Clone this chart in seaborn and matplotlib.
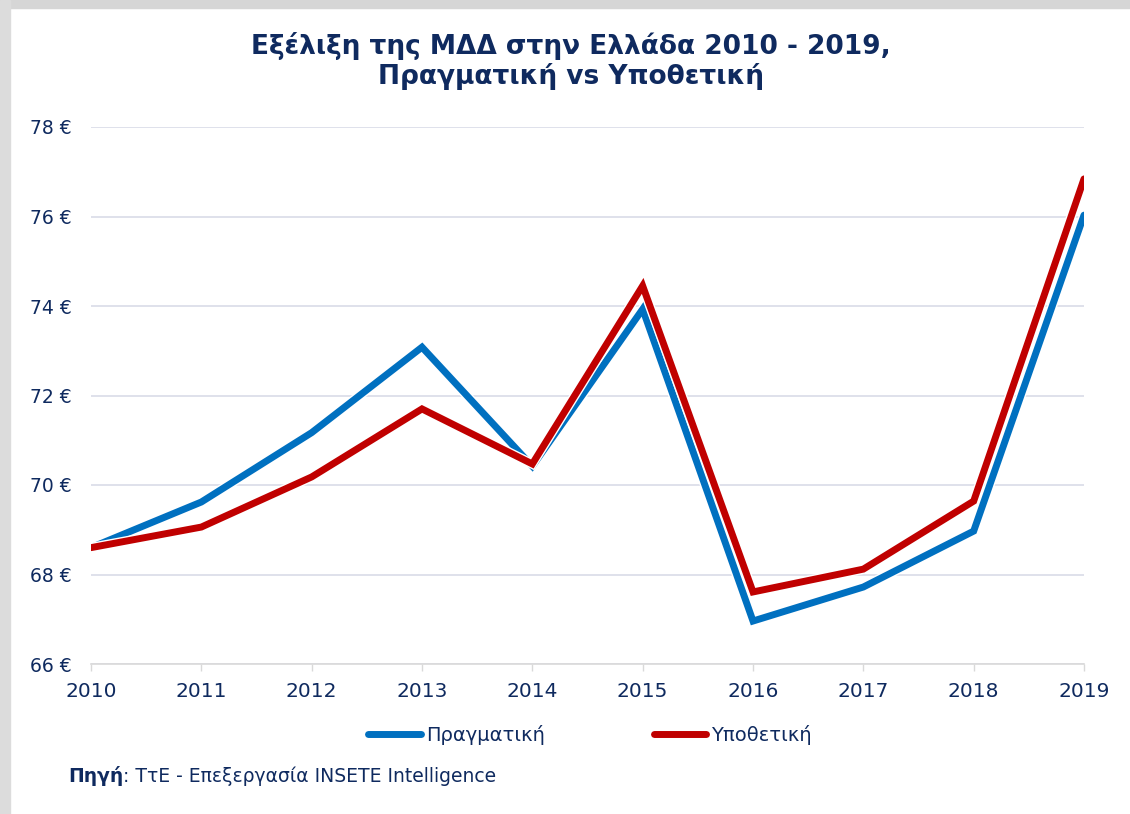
import numpy as np
import pandas as pd
import matplotlib
matplotlib.use("Agg")
import matplotlib.pyplot as plt
import matplotlib.patheffects as pe
from matplotlib.patches import Rectangle
from matplotlib.lines import Line2D
import seaborn as sns

years = [2010, 2011, 2012, 2013, 2014, 2015, 2016, 2017, 2018, 2019]
actual = [68.60, 69.62, 71.17, 73.08, 70.42, 73.93, 66.96, 67.72, 68.97, 76.03]
hypothetical = [68.60, 69.06, 70.18, 71.70, 70.47, 74.45, 67.61, 68.12, 69.64, 76.84]
series_names = ["Πραγματική", "Υποθετική"]
y_ticks = [66, 68, 70, 72, 74, 76, 78]

title = "Εξέλιξη της ΜΔΔ στην Ελλάδα 2010 - 2019,\nΠραγματική vs Υποθετική"
source_bold = "Πηγή"
source_rest = ": ΤτΕ - Επεξεργασία INSETE Intelligence"

navy = "#0F2A5F"
blue = "#0070C0"
red = "#C00000"

df = pd.DataFrame({
    "year": years * 2,
    "value": actual + hypothetical,
    "series": [series_names[0]] * len(years) + [series_names[1]] * len(years),
})

sns.set_theme(style="white")
plt.rcParams["font.family"] = ["DejaVu Sans"]

fig = plt.figure(figsize=(11.30, 8.14), dpi=100)
fig.patch.set_facecolor("white")
ax = fig.add_axes([91 / 1130, 1 - 664 / 814, (1084 - 91) / 1130, (664 - 127) / 814])

sns.lineplot(data=df, x="year", y="value", hue="series", hue_order=series_names,
             palette=[blue, red], linewidth=5, ax=ax, legend=False, sort=False)
for line in ax.get_lines():
    line.set_path_effects([pe.Stroke(linewidth=7, foreground="white"), pe.Normal()])
    line.set_solid_joinstyle("miter")

ax.set_xlim(years[0], years[-1])
ax.set_ylim(y_ticks[0], y_ticks[-1])
ax.set_xticks(years)
ax.set_xticklabels([str(y) for y in years])
ax.set_yticks(y_ticks)
ax.set_yticklabels([f"{t} €" for t in y_ticks])
ax.set_xlabel("")
ax.set_ylabel("")
ax.grid(axis="y", color="#D9DCE8", linewidth=1.2)
ax.grid(axis="x", visible=False)
ax.set_axisbelow(True)
for s in ["top", "left", "right"]:
    ax.spines[s].set_visible(False)
ax.spines["bottom"].set_color("#D9D9D9")
ax.spines["bottom"].set_linewidth(1.2)
ax.tick_params(axis="y", length=0, pad=14, labelsize=13.5, labelcolor=navy)
ax.tick_params(axis="x", length=5, width=1, color="#D9D9D9", pad=8, labelsize=14.5,
               labelcolor=navy, bottom=True, direction="out")
ax.set_facecolor("white")

fig.text(571 / 1130, 1 - 61 / 814, title, ha="center", va="center", fontsize=19,
         fontweight="bold", color=navy, linespacing=1.15)

handles = [Line2D([], [], color=blue, linewidth=5), Line2D([], [], color=red, linewidth=5)]
fig.legend(handles, series_names, loc="center", bbox_to_anchor=(590 / 1130, 1 - 735 / 814),
           ncol=2, frameon=False, fontsize=14, handlelength=2.7, handletextpad=0.25,
           columnspacing=5.6, labelcolor=navy)

t1 = fig.text(68 / 1130, 1 - 776 / 814, source_bold, ha="left", va="center", fontsize=13.5,
              fontweight="bold", color=navy)
fig.canvas.draw()
bb = t1.get_window_extent()
fig.text(bb.x1 / 1130, 1 - 776 / 814, source_rest, ha="left", va="center", fontsize=13.5,
         color=navy)

# grey frame bands (top and left)
fig.add_artist(Rectangle((0, 1 - 8 / 814), 1, 8 / 814, transform=fig.transFigure,
                         color="#D6D6D6", zorder=10))
fig.add_artist(Rectangle((0, 0), 10 / 1130, 1, transform=fig.transFigure,
                         color="#DCDCDC", zorder=10))

fig.savefig("out.png", dpi=100, facecolor="white")
